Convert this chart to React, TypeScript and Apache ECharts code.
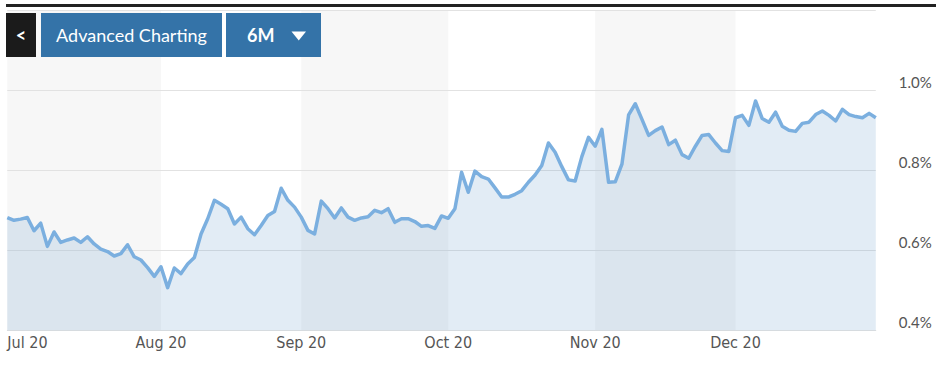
import React, { useEffect, useRef } from 'react';
import * as echarts from 'echarts';

// Month labels shown on the x axis
const monthLabels = ['Jul 20', 'Aug 20', 'Sep 20', 'Oct 20', 'Nov 20', 'Dec 20'];

// Daily yield values (%) per month
const julYield = [0.682, 0.675, 0.678, 0.682, 0.649, 0.668, 0.610, 0.646, 0.620, 0.626, 0.631, 0.620, 0.634, 0.616, 0.603, 0.597, 0.586, 0.592, 0.614, 0.584, 0.576, 0.557, 0.535];
const augYield = [0.559, 0.507, 0.556, 0.542, 0.566, 0.582, 0.641, 0.679, 0.725, 0.715, 0.704, 0.666, 0.683, 0.654, 0.639, 0.662, 0.687, 0.697, 0.755, 0.725, 0.708];
const sepYield = [0.683, 0.650, 0.641, 0.723, 0.704, 0.681, 0.706, 0.683, 0.675, 0.681, 0.684, 0.700, 0.694, 0.704, 0.670, 0.679, 0.679, 0.672, 0.660, 0.662, 0.655, 0.686];
const octYield = [0.680, 0.704, 0.795, 0.745, 0.798, 0.784, 0.778, 0.756, 0.733, 0.733, 0.740, 0.749, 0.770, 0.788, 0.812, 0.868, 0.845, 0.809, 0.776, 0.773, 0.834, 0.882];
const novYield = [0.860, 0.902, 0.770, 0.771, 0.815, 0.938, 0.966, 0.927, 0.887, 0.899, 0.908, 0.864, 0.875, 0.839, 0.830, 0.860, 0.887, 0.889, 0.868, 0.849, 0.847];
const decYield = [0.931, 0.937, 0.912, 0.973, 0.929, 0.920, 0.945, 0.910, 0.900, 0.897, 0.917, 0.920, 0.939, 0.948, 0.937, 0.923, 0.952, 0.939, 0.934, 0.931, 0.942, 0.931];

const monthValues = [julYield, augYield, sepYield, octYield, novYield, decYield];

// Y axis range and labelled ticks
const yMin = 0.4;
const yMax = 1.2;
const yStep = 0.2;
const yLabelValues = [0.4, 0.6, 0.8, 1.0];

// Months drawn with a grey background band (Jul, Sep, Nov)
const shadedMonths = [0, 2, 4];

export default function App() {
  const ref = useRef<HTMLDivElement>(null);

  useEffect(() => {
    document.body.style.margin = '0';
    const chart = echarts.init(ref.current!, null, { renderer: 'svg' });

    const categories: string[] = [];
    const values: number[] = [];
    const monthStart: number[] = [];
    monthValues.forEach((arr, m) => {
      monthStart.push(categories.length);
      arr.forEach((v, j) => {
        categories.push(j === 0 ? monthLabels[m] : `${monthLabels[m]} #${j}`);
        values.push(v);
      });
    });
    const startSet = new Set(monthStart);
    const bands = shadedMonths.map((m) => [
      { xAxis: categories[monthStart[m]] },
      { xAxis: m + 1 < monthStart.length ? categories[monthStart[m + 1]] : categories[categories.length - 1] },
    ]);

    const btnFont = 'Lato, "Open Sans", sans-serif';

    chart.setOption({
      animation: false,
      backgroundColor: '#ffffff',
      grid: { left: 7.3, right: 68.2, top: 10, bottom: 40.5, containLabel: false },
      xAxis: {
        type: 'category',
        data: categories,
        boundaryGap: false,
        axisLine: { show: true, lineStyle: { color: '#e4e4e4', width: 1 } },
        axisTick: { show: false },
        splitLine: { show: false },
        axisLabel: {
          interval: (idx: number) => startSet.has(idx),
          formatter: (v: string) => v.split(' #')[0],
          color: '#555555',
          fontSize: 16,
          fontFamily: '"Liberation Sans Narrow", "DejaVu Sans Condensed", Roboto, sans-serif',
          margin: 4,
          alignMinLabel: 'left',
        },
      },
      yAxis: {
        type: 'value',
        position: 'right',
        min: yMin,
        max: yMax,
        interval: yStep,
        z: 1,
        axisLine: { show: false },
        axisTick: { show: false },
        splitLine: { show: true, lineStyle: { color: '#e2e2e2', width: 1 } },
        axisLabel: {
          formatter: (v: number) => (yLabelValues.some((t) => Math.abs(t - v) < 1e-6) ? v.toFixed(1) + '%' : ''),
          color: '#555555',
          fontSize: 15,
          fontFamily: 'Lato, sans-serif',
          margin: 23,
          verticalAlign: 'bottom',
          padding: [0, 0, 1, 0],
        },
      },
      series: [
        {
          type: 'line',
          data: values,
          showSymbol: false,
          symbol: 'none',
          z: 2,
          lineStyle: { color: '#7bafdf', width: 3.5, join: 'round' },
          areaStyle: { color: 'rgba(85,140,195,0.24)', origin: 'start' },
          markArea: {
            silent: true,
            z: 0,
            itemStyle: { color: '#f7f7f7', borderWidth: 0 },
            data: bands,
          },
        },
      ],
      graphic: [
        { type: 'rect', z: 10, shape: { x: 6, y: 4, width: 930, height: 3 }, style: { fill: '#222222' } },
        { type: 'rect', z: 10, shape: { x: 6, y: 13, width: 30, height: 44 }, style: { fill: '#1b1b1b' } },
        { type: 'text', z: 11, x: 21, y: 35, style: { text: '<', fill: '#ffffff', font: `bold 18px ${btnFont}`, align: 'center', verticalAlign: 'middle' } },
        { type: 'rect', z: 10, shape: { x: 41, y: 13, width: 181, height: 44 }, style: { fill: '#3473a8' } },
        { type: 'text', z: 11, x: 131.5, y: 35, style: { text: 'Advanced Charting', fill: '#ffffff', font: `18px ${btnFont}`, align: 'center', verticalAlign: 'middle' } },
        { type: 'rect', z: 10, shape: { x: 226, y: 13, width: 95, height: 44 }, style: { fill: '#3473a8' } },
        { type: 'text', z: 11, x: 247, y: 35, style: { text: '6M', fill: '#ffffff', font: `bold 18px ${btnFont}`, align: 'left', verticalAlign: 'middle' } },
        { type: 'polygon', z: 11, shape: { points: [[291.5, 31.5], [306, 31.5], [298.75, 40.5]] }, style: { fill: '#ffffff' } },
      ],
    });

    return () => chart.dispose();
  }, []);

  return <div ref={ref} style={{ position: 'absolute', left: 0, top: 0, width: 944, height: 371 }} />;
}
